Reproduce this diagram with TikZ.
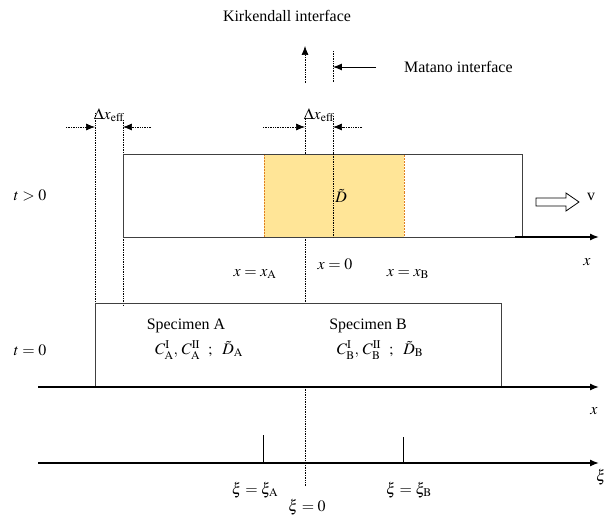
\documentclass[tikz,border=0pt]{standalone}
\usepackage{mathptmx}
\usepackage{fontspec}
\setmainfont{Liberation Serif}
\usetikzlibrary{arrows.meta}
\usetikzlibrary{positioning}
\definecolor{zonefill}{HTML}{FFE597}
\tikzset{
    lbl/.style={
           inner sep=0pt,
           font=\fontsize{16}{19}\selectfont,
           },
    guide/.style={densely dotted, line width=0.7pt},
    axis/.style={->, line width=1.4pt},
    box/.style={draw=black!75, line width=0.9pt},
}

\begin{document}
\begin{tikzpicture}[x=1bp,y=-1bp,>={Latex[length=9pt,width=7pt]}]
 \useasboundingbox (0,0) rectangle (612,522);
 % interfaces on top
 \node[lbl] (KI) at (287,16) {Kirkendall interface};
 \node[lbl,anchor=west] (MI) at (404,67) {Matano interface};
 \coordinate (KT) at (305,46);
 \coordinate (KB) at (305,83);
 \coordinate (MT) at (333,51);
 \coordinate (MB) at (333,83);
 \draw[guide,->] (KB) -- (KT);
 \draw[guide] (MT) -- (MB);
 \draw[->,line width=0.9pt] (376,67) -- (MT |- MI.west);

 % effective shift
 \node[lbl] (DL) at (109,115) {$\Delta x_{\mathrm{eff}}$};
 \node[lbl] (DR) at (319,115) {$\Delta x_{\mathrm{eff}}$};
 \draw[guide,->] (66,127) -- (95,127);
 \draw[guide,->] (151,127) -- (123,127);
 \draw[guide,->] (263,127) -- (305,127);
 \draw[guide,->] (362,127) -- (333,127);
 \draw[guide] (95,113) -- (95,303);
 \draw[guide] (123,120) -- (123,306);
 \draw[guide] (305,116) -- (305,154);
 \draw[guide] (333,116) -- (333,237);
 \draw[guide] (305,237) -- (305,303);
 \draw[guide] (305,387) -- (305,486);

 % t > 0
 \fill[zonefill] (264,154) rectangle (404,237);
 \draw[densely dotted,draw=orange!50!brown,line width=0.5pt] (264,154) rectangle (404,237);
 \draw[box] (123,154) rectangle (522,237);
 \draw[guide] (333,154) -- (333,237);
 \draw[axis] (515,237) -- (599,237);
 \node[lbl] (DT) at (341,196) {$\tilde{D}$};
 \node[lbl] (T1) at (30,195) {$t>0$};
 \draw[line width=0.8pt] (536,198) -- (566,198) -- (566,193) -- (579,202)
   -- (566,211) -- (566,206) -- (536,206) -- cycle;
 \node[lbl] (V) at (591,197) {v};
 \node[lbl] (X1) at (587,262) {$x$};
 \node[lbl] (XA) at (255,274) {$x=x_{\mathrm{A}}$};
 \node[lbl] (X0) at (335,264) {$x=0$};
 \node[lbl] (XB) at (408,274) {$x=x_{\mathrm{B}}$};

 % t = 0
 \draw[box] (95,387) -- (95,303) -- (501,303) -- (501,387);
 \draw[axis] (38,387) -- (599,387);
 \node[lbl] (T0) at (30,350) {$t=0$};
 \node[lbl] (SA) at (186,326) {Specimen A};
 \node[lbl] (CA) at (199,350)
   {$C^{\mathrm{I}}_{\mathrm{A}},\, C^{\mathrm{II}}_{\mathrm{A}}\ \ ;\ \ \tilde{D}_{\mathrm{A}}$};
 \node[lbl] (SB) at (368,326) {Specimen B};
 \node[lbl] (CB) at (380,350)
   {$C^{\mathrm{I}}_{\mathrm{B}},\, C^{\mathrm{II}}_{\mathrm{B}}\ \ ;\ \ \tilde{D}_{\mathrm{B}}$};
 \node[lbl] (X2) at (594,411) {$x$};

 % xi axis
 \draw[axis] (38,463) -- (599,463);
 \draw[line width=0.9pt] (263,435) -- (263,463);
 \draw[line width=0.9pt] (403,437) -- (403,463);
 \node[lbl] (KA) at (255,490) {$\xi=\xi_{\mathrm{A}}$};
 \node[lbl] (KB0) at (409,490) {$\xi=\xi_{\mathrm{B}}$};
 \node[lbl] (K0) at (307,507) {$\xi=0$};
 \node[lbl] (XI) at (601,477) {$\xi$};
\end{tikzpicture}
\end{document}
